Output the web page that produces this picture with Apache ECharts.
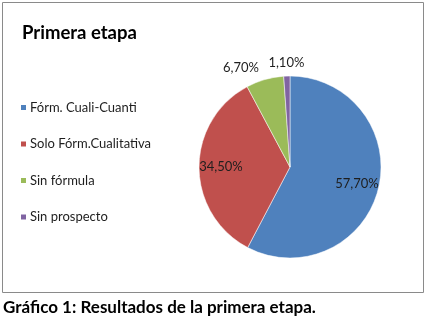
<!DOCTYPE html>
<html>
<head>
<meta charset="utf-8">
<script src="https://cdn.jsdelivr.net/npm/echarts@6/dist/echarts.min.js"></script>
<style>
html,body{margin:0;padding:0;background:#fff;}
#c{width:426px;height:323px;}
</style>
</head>
<body>
<div id="c"></div>
<script>
const categories = ['Fórm. Cuali-Cuanti', 'Solo Fórm.Cualitativa', 'Sin fórmula', 'Sin prospecto'];
const values = [57.7, 34.5, 6.7, 1.1];
const colors = ['#4F81BD', '#C0504D', '#9BBB59', '#8064A2'];
const titleText = 'Primera etapa';
const captionText = 'Gráfico 1: Resultados de la primera etapa.';

const fmt = p => p.value.toFixed(2).replace('.', ',') + '%';
const FONT = 'Lato, "Open Sans", sans-serif';
const CENTER = [290, 167];

const mainData = categories.map((n, i) => ({ name: n, value: values[i], itemStyle: { color: colors[i] } }));
const innerLabelData = categories.map((n, i) => ({
  name: n, value: values[i],
  label: { show: i < 2 }
}));
const outerLabelData = categories.map((n, i) => ({
  name: n, value: values[i],
  label: { show: i >= 2 }
}));

const labelSeriesBase = {
  type: 'pie',
  center: CENTER,
  silent: true,
  legendHoverLink: false,
  animation: false,
  itemStyle: { color: 'rgba(0,0,0,0)', borderWidth: 0 },
  emphasis: { disabled: true },
  labelLine: { show: false },
  label: { position: 'inside', formatter: fmt, color: '#1e1e1e', fontFamily: FONT, fontSize: 13 }
};

const chart = echarts.init(document.getElementById('c'), null, { renderer: 'canvas' });
chart.setOption({
  animation: false,
  title: [
    { text: titleText, left: 17, top: 19, textStyle: { fontFamily: FONT, fontWeight: 'bold', fontSize: 18.5, color: '#000' } },
    { text: captionText, left: -2, top: 294, textStyle: { fontFamily: FONT, fontWeight: 'bold', fontSize: 17, color: '#000' } }
  ],
  legend: {
    orient: 'vertical',
    left: 14,
    top: 96,
    icon: 'rect',
    itemWidth: 7,
    itemHeight: 7,
    itemGap: 23.5,
    selectedMode: false,
    data: categories,
    textStyle: { fontFamily: FONT, fontSize: 13, color: '#1e1e1e', padding: [0, 0, 0, -2] }
  },
  graphic: [{
    type: 'rect', shape: { x: 2.5, y: 2.5, width: 421, height: 290 },
    style: { fill: 'none', stroke: '#8a8a8a', lineWidth: 1 }, silent: true
  }],
  series: [
    {
      type: 'pie',
      name: 'Primera etapa',
      center: CENTER,
      radius: 91,
      startAngle: 90,
      clockwise: true,
      animation: false,
      label: { show: false },
      labelLine: { show: false },
      itemStyle: { borderColor: '#fff', borderWidth: 0.5 },
      emphasis: { disabled: true },
      data: mainData
    },
    Object.assign({}, labelSeriesBase, { radius: [0, 132], data: innerLabelData }),
    Object.assign({}, labelSeriesBase, {
      radius: [0, 204],
      data: outerLabelData,
      labelLayout: p => (p.dataIndex === 2 ? { dx: -20, dy: 2 } : { dy: 1 })
    })
  ]
});
</script>
</body>
</html>
